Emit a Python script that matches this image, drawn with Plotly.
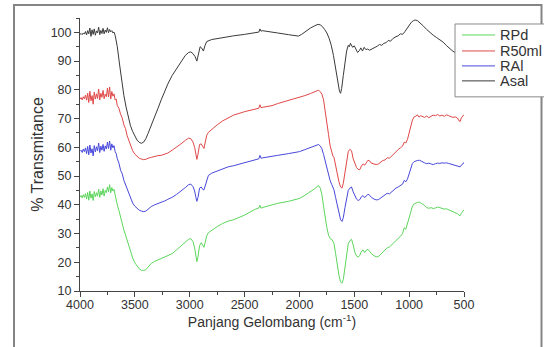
import plotly.graph_objects as go

# ---- data: (wavenumber cm-1, % transmittance) ----
asal = [
    (4000, 99.3), (3990, 99.6), (3980, 99.2), (3970, 99.8), (3960, 99.4), (3950, 100.3),
    (3940, 99.1), (3930, 100.6), (3920, 99.5), (3910, 101.5), (3900, 98.6), (3890, 100.9),
    (3880, 99.3), (3870, 101.2), (3860, 99.0), (3850, 100.5), (3840, 99.8), (3830, 101.8),
    (3820, 99.2), (3810, 100.7), (3800, 99.6), (3790, 101.4), (3780, 99.5), (3770, 100.8),
    (3760, 100.0), (3750, 101.6), (3740, 99.9), (3730, 101.0), (3720, 100.2), (3710, 100.6),
    (3700, 99.8), (3690, 100.1), (3680, 99.0), (3670, 97.5), (3660, 95.0), (3640, 89.0),
    (3620, 83.0), (3600, 78.0), (3580, 74.0), (3560, 70.5), (3540, 67.5), (3520, 65.5),
    (3500, 63.8), (3480, 62.5), (3460, 61.7), (3440, 61.4), (3420, 61.8), (3400, 63.0),
    (3380, 64.8), (3350, 67.5), (3320, 70.3), (3290, 73.5), (3260, 76.5), (3230, 79.5),
    (3200, 82.0), (3160, 85.0), (3120, 87.5), (3080, 90.0), (3040, 92.0), (3010, 93.0),
    (2990, 93.2), (2970, 92.6), (2950, 91.5), (2935, 90.0), (2920, 92.5), (2905, 95.0),
    (2890, 94.5), (2875, 93.5), (2860, 95.5), (2845, 96.8), (2800, 97.5), (2700, 98.2),
    (2600, 98.8), (2500, 99.3), (2400, 99.8), (2370, 100.1), (2360, 101.2), (2350, 100.4),
    (2340, 100.6), (2300, 100.3), (2250, 100.1), (2200, 99.8), (2100, 99.2), (2050, 98.9),
    (2010, 98.7), (1980, 99.3), (1940, 100.5), (1900, 101.5), (1860, 102.3), (1830, 102.8),
    (1810, 102.6), (1790, 102.0), (1770, 101.0), (1750, 99.8), (1730, 98.0), (1710, 95.5),
    (1690, 92.0), (1670, 87.5), (1650, 82.5), (1635, 79.5), (1625, 78.8), (1615, 80.5),
    (1600, 85.0), (1585, 90.0), (1570, 93.5), (1555, 95.5), (1545, 95.0), (1535, 96.2),
    (1525, 95.3), (1515, 94.8), (1500, 95.3), (1485, 94.2), (1470, 93.0), (1455, 93.6),
    (1440, 94.6), (1425, 93.5), (1410, 94.8), (1395, 94.0), (1380, 94.2), (1360, 93.8),
    (1340, 94.3), (1310, 94.8), (1290, 95.2), (1270, 95.8), (1250, 95.5), (1230, 96.2),
    (1210, 96.4), (1190, 97.2), (1170, 96.9), (1150, 97.8), (1120, 98.5), (1100, 98.8),
    (1080, 99.5), (1060, 99.3), (1040, 100.2), (1020, 101.3), (1000, 102.4), (980, 103.5),
    (960, 104.1), (945, 104.3), (925, 104.1), (900, 103.3), (870, 102.2), (840, 101.0),
    (810, 99.9), (780, 99.0), (750, 98.2), (720, 97.5), (690, 96.6), (660, 95.4),
    (630, 94.3), (600, 93.4), (580, 93.0), (550, 92.6), (500, 92.2),
]

r50ml = [
    (4000, 76.8), (3990, 77.3), (3980, 76.5), (3970, 77.6), (3960, 76.9), (3950, 78.2),
    (3940, 76.4), (3930, 78.8), (3920, 75.6), (3910, 79.5), (3900, 76.2), (3890, 78.0),
    (3880, 75.0), (3870, 79.2), (3860, 76.8), (3850, 78.6), (3840, 77.0), (3830, 80.3),
    (3820, 76.5), (3810, 78.8), (3800, 77.4), (3790, 79.8), (3780, 76.9), (3770, 78.5),
    (3760, 77.6), (3750, 80.6), (3740, 77.5), (3730, 81.0), (3720, 76.8), (3710, 79.4),
    (3700, 77.8), (3690, 78.6), (3680, 76.5), (3670, 76.8), (3660, 74.5), (3645, 73.6),
    (3630, 71.5), (3615, 70.2), (3600, 67.8), (3585, 66.5), (3570, 64.0), (3555, 62.2),
    (3540, 60.5), (3520, 58.8), (3500, 57.6), (3480, 56.8), (3460, 56.2), (3440, 55.9),
    (3420, 55.7), (3400, 55.8), (3380, 56.2), (3350, 56.5), (3320, 56.9), (3290, 57.1),
    (3260, 57.2), (3230, 57.5), (3200, 58.0), (3160, 59.0), (3120, 60.0), (3080, 61.2),
    (3040, 62.4), (3010, 63.2), (2990, 63.0), (2970, 61.8), (2955, 60.0), (2945, 57.5),
    (2935, 55.8), (2925, 57.5), (2910, 61.0), (2895, 61.2), (2880, 60.0), (2870, 59.6),
    (2860, 61.5), (2845, 64.2), (2830, 65.2), (2800, 66.3), (2750, 67.8), (2700, 69.2),
    (2650, 70.2), (2600, 71.2), (2500, 72.4), (2400, 73.3), (2370, 73.6), (2360, 74.8),
    (2350, 73.8), (2340, 73.9), (2300, 74.2), (2250, 74.5), (2200, 75.2), (2100, 76.3),
    (2000, 77.3), (1950, 78.0), (1900, 78.7), (1860, 79.2), (1840, 79.6), (1825, 79.9),
    (1810, 79.3), (1795, 78.5), (1780, 76.5), (1765, 73.0), (1750, 69.0), (1735, 64.5),
    (1720, 60.5), (1705, 58.3), (1695, 57.0), (1685, 56.5), (1670, 53.5), (1655, 50.5),
    (1640, 48.0), (1625, 46.2), (1612, 45.8), (1600, 47.5), (1585, 51.5), (1570, 55.5),
    (1555, 58.5), (1540, 59.3), (1525, 58.8), (1510, 56.0), (1495, 54.2), (1480, 53.0),
    (1465, 52.3), (1450, 52.2), (1435, 53.5), (1420, 54.2), (1405, 53.8), (1390, 54.8),
    (1375, 55.5), (1360, 55.3), (1345, 54.5), (1320, 54.2), (1300, 54.0), (1280, 54.2),
    (1260, 54.8), (1240, 55.4), (1220, 55.6), (1200, 56.4), (1180, 56.2), (1160, 57.0),
    (1140, 57.8), (1120, 58.5), (1100, 59.2), (1080, 59.8), (1060, 60.4), (1045, 61.8),
    (1030, 61.5), (1015, 62.8), (1000, 65.0), (985, 67.5), (970, 69.5), (955, 70.6),
    (940, 70.8), (925, 71.3), (910, 70.5), (895, 71.0), (880, 70.7), (860, 70.4),
    (840, 70.9), (820, 70.3), (800, 70.8), (780, 71.2), (760, 71.0), (740, 71.4),
    (720, 70.9), (700, 71.2), (680, 70.8), (660, 71.3), (640, 71.0), (620, 70.8),
    (600, 70.4), (580, 70.6), (560, 70.2), (545, 69.2), (535, 69.0), (525, 70.2),
    (510, 70.8), (500, 71.4),
]

ral = [
    (4000, 58.6), (3990, 59.0), (3980, 58.2), (3970, 59.4), (3960, 58.5), (3950, 59.8),
    (3940, 57.8), (3930, 60.3), (3920, 57.4), (3910, 60.8), (3900, 58.0), (3890, 59.5),
    (3880, 57.0), (3870, 60.6), (3860, 58.4), (3850, 60.2), (3840, 58.8), (3830, 61.5),
    (3820, 58.2), (3810, 60.4), (3800, 59.0), (3790, 61.0), (3780, 58.6), (3770, 60.5),
    (3760, 59.4), (3750, 61.8), (3740, 59.6), (3730, 62.2), (3720, 59.0), (3710, 61.2),
    (3700, 59.8), (3690, 60.6), (3680, 58.5), (3670, 57.8), (3660, 56.0), (3645, 54.5),
    (3630, 52.0), (3615, 50.8), (3600, 48.5), (3585, 47.0), (3570, 45.2), (3555, 43.5),
    (3540, 42.0), (3520, 40.6), (3500, 39.5), (3480, 38.7), (3460, 38.1), (3440, 37.8),
    (3420, 37.6), (3400, 37.8), (3380, 38.5), (3350, 39.4), (3320, 40.0), (3290, 40.4),
    (3260, 40.8), (3230, 41.3), (3200, 41.9), (3160, 42.6), (3120, 43.6), (3080, 44.7),
    (3040, 46.0), (3010, 47.0), (2990, 47.2), (2970, 46.3), (2955, 44.8), (2945, 42.8),
    (2935, 41.2), (2925, 42.5), (2910, 45.8), (2895, 46.2), (2880, 45.3), (2870, 45.2),
    (2860, 46.5), (2845, 49.0), (2830, 50.2), (2800, 51.0), (2750, 51.8), (2700, 52.6),
    (2650, 53.2), (2600, 53.6), (2500, 54.6), (2400, 55.7), (2370, 56.0), (2360, 57.2),
    (2350, 56.2), (2340, 56.3), (2300, 56.5), (2250, 56.8), (2200, 57.2), (2100, 57.8),
    (2000, 58.5), (1950, 59.2), (1900, 59.9), (1860, 60.5), (1840, 60.8), (1825, 61.0),
    (1810, 60.4), (1795, 59.5), (1780, 57.5), (1765, 55.0), (1750, 52.5), (1735, 50.2),
    (1720, 48.4), (1705, 47.0), (1695, 46.0), (1685, 45.2), (1670, 42.5), (1655, 39.5),
    (1640, 36.8), (1625, 34.8), (1612, 34.2), (1600, 35.5), (1585, 39.0), (1570, 42.5),
    (1555, 45.0), (1540, 45.8), (1525, 46.2), (1510, 44.5), (1495, 43.0), (1480, 42.0),
    (1465, 41.5), (1450, 41.8), (1435, 42.8), (1420, 43.2), (1405, 42.5), (1390, 43.2),
    (1375, 43.7), (1360, 43.3), (1345, 42.6), (1320, 42.0), (1300, 41.7), (1280, 41.8),
    (1260, 42.4), (1240, 43.0), (1220, 43.3), (1200, 44.0), (1180, 43.8), (1160, 44.5),
    (1140, 45.2), (1120, 45.8), (1100, 46.2), (1080, 46.6), (1060, 47.2), (1045, 48.5),
    (1030, 48.0), (1015, 49.0), (1000, 51.0), (985, 53.0), (970, 54.4), (955, 55.0),
    (940, 55.3), (925, 55.4), (905, 55.5), (885, 55.0), (860, 54.6), (840, 54.3),
    (820, 54.5), (800, 54.2), (780, 54.0), (760, 54.3), (740, 54.5), (720, 54.4),
    (700, 54.6), (680, 54.5), (660, 54.6), (640, 54.4), (620, 54.2), (600, 54.0),
    (580, 53.8), (560, 53.7), (545, 53.3), (535, 53.2), (525, 53.8), (510, 54.2),
    (500, 54.8),
]

rpd = [
    (4000, 42.7), (3990, 43.2), (3980, 42.4), (3970, 43.5), (3960, 42.6), (3950, 43.9),
    (3940, 42.0), (3930, 44.3), (3920, 41.6), (3910, 44.8), (3900, 42.3), (3890, 43.8),
    (3880, 41.5), (3870, 44.6), (3860, 42.8), (3850, 44.2), (3840, 43.0), (3830, 45.4),
    (3820, 42.6), (3810, 44.8), (3800, 43.4), (3790, 45.6), (3780, 43.0), (3770, 45.0),
    (3760, 44.2), (3750, 46.2), (3740, 44.5), (3730, 47.0), (3720, 44.2), (3710, 46.0),
    (3700, 44.8), (3690, 45.4), (3680, 43.5), (3670, 42.2), (3660, 40.0), (3645, 38.0),
    (3630, 35.5), (3615, 33.6), (3600, 31.2), (3585, 29.5), (3570, 27.5), (3555, 25.3),
    (3540, 23.5), (3520, 21.5), (3500, 19.8), (3480, 18.5), (3460, 17.7), (3440, 17.2),
    (3420, 17.1), (3400, 17.4), (3380, 18.3), (3350, 19.6), (3320, 20.3), (3290, 20.8),
    (3260, 21.2), (3230, 21.8), (3200, 22.3), (3160, 23.0), (3120, 24.3), (3080, 25.6),
    (3040, 27.0), (3010, 28.0), (2990, 28.2), (2970, 27.2), (2955, 25.0), (2945, 22.2),
    (2935, 20.2), (2925, 21.8), (2910, 25.8), (2895, 26.8), (2880, 25.6), (2870, 25.2),
    (2860, 26.8), (2845, 29.2), (2830, 30.3), (2800, 31.2), (2750, 32.4), (2700, 33.5),
    (2650, 34.3), (2600, 34.8), (2500, 36.4), (2400, 38.5), (2370, 38.9), (2360, 39.8),
    (2350, 38.8), (2340, 39.0), (2300, 39.5), (2250, 40.0), (2200, 40.5), (2100, 41.2),
    (2000, 42.2), (1950, 43.3), (1900, 44.5), (1860, 45.6), (1840, 46.3), (1825, 46.7),
    (1810, 45.8), (1795, 43.5), (1780, 39.5), (1765, 35.5), (1750, 32.0), (1735, 29.5),
    (1720, 28.2), (1705, 28.0), (1695, 27.2), (1685, 26.5), (1670, 23.0), (1655, 19.0),
    (1640, 15.5), (1625, 13.2), (1612, 12.7), (1600, 14.0), (1585, 18.5), (1570, 23.0),
    (1555, 26.5), (1540, 27.5), (1525, 28.0), (1510, 26.0), (1495, 23.5), (1480, 22.2),
    (1465, 21.8), (1450, 22.4), (1435, 23.8), (1420, 24.3), (1405, 23.4), (1390, 24.2),
    (1375, 24.5), (1360, 23.8), (1345, 23.0), (1320, 22.3), (1300, 21.9), (1280, 22.0),
    (1260, 22.8), (1240, 23.6), (1220, 24.2), (1200, 25.0), (1180, 25.3), (1160, 26.0),
    (1140, 26.8), (1120, 27.6), (1100, 28.2), (1080, 29.0), (1060, 30.0), (1045, 32.0),
    (1030, 31.5), (1015, 33.5), (1000, 35.5), (985, 37.8), (970, 39.5), (955, 40.3),
    (940, 40.6), (925, 40.8), (905, 40.9), (885, 40.5), (860, 39.8), (840, 39.0),
    (820, 38.8), (800, 39.0), (780, 38.7), (760, 38.9), (740, 39.2), (720, 39.0),
    (700, 38.8), (680, 38.5), (660, 38.6), (640, 38.3), (620, 38.0), (600, 37.5),
    (580, 37.2), (560, 36.9), (545, 36.4), (535, 36.2), (525, 37.0), (510, 37.6),
    (500, 38.3),
]

series_names = ["RPd", "R50ml", "RAl", "Asal"]
series_data = [rpd, r50ml, ral, asal]
series_colors = ["#5cd65c", "#e04848", "#4848dc", "#3a3a3a"]

x_ticks = [4000, 3500, 3000, 2500, 2000, 1500, 1000, 500]
y_ticks = [10, 20, 30, 40, 50, 60, 70, 80, 90, 100]

FONT = "Liberation Sans, Arial, sans-serif"
TXT = "#333"

fig = go.Figure()
for name, data, color in zip(series_names, series_data, series_colors):
    xs, ys = zip(*data)
    fig.add_trace(go.Scatter(x=list(xs), y=list(ys), mode="lines", name=name,
                             line=dict(color=color, width=1), showlegend=False,
                             hoverinfo="skip"))

axis_common = dict(
    showgrid=False, zeroline=False, showline=True, linecolor="#444", linewidth=1,
    ticks="outside", ticklen=5, tickcolor="#444", tickwidth=1,
    tickfont=dict(family=FONT, size=12.5, color=TXT),
    mirror=False, automargin=False,
)

fig.update_xaxes(range=[4000, 500], tickvals=x_ticks, ticktext=[str(v) for v in x_ticks],
                 minor=dict(ticks="outside", ticklen=3, tickcolor="#444", dtick=250, tick0=500),
                 ticklabelstandoff=-3,
                 title=dict(text="Panjang Gelombang (cm<sup>-1</sup>)",
                            font=dict(family=FONT, size=14, color=TXT), standoff=4),
                 **axis_common)
fig.update_yaxes(range=[10, 105], tickvals=y_ticks, ticktext=[str(v) for v in y_ticks],
                 minor=dict(ticks="outside", ticklen=3, tickcolor="#444", dtick=5, tick0=0),
                 title=dict(text="% Transmitance",
                            font=dict(family=FONT, size=16, color=TXT), standoff=3),
                 **axis_common)

# ---- pixel -> paper helpers for the frame and the boxed legend ----
L, R, T, B = 80, 464, 18, 291.5
W_, H_ = R - L, B - T
def px(x):
    return (x - L) / W_
def py(y):
    return (B - y) / H_

shapes = [dict(type="rect", xref="paper", yref="paper",
               x0=px(14), x1=px(541.5), y0=py(360), y1=py(5),
               line=dict(color="#858585", width=2), layer="below")]
# legend box (opaque, covers the curve behind it)
shapes.append(dict(type="rect", xref="paper", yref="paper",
                   x0=px(455), x1=px(545), y0=py(97), y1=py(24),
                   fillcolor="white", line=dict(color="#8a8a8a", width=1), layer="above"))
annotations = []
legend_rows = [35, 51, 66, 81]
for name, color, yrow in zip(series_names, series_colors, legend_rows):
    shapes.append(dict(type="line", xref="paper", yref="paper",
                       x0=px(462), x1=px(495), y0=py(yrow), y1=py(yrow),
                       line=dict(color=color, width=1), layer="above"))
    annotations.append(dict(xref="paper", yref="paper", x=px(498), y=py(yrow),
                            xanchor="left", yanchor="middle", showarrow=False,
                            text=name, font=dict(family=FONT, size=14.5, color=TXT)))

fig.update_layout(
    width=544, height=347,
    margin=dict(l=L, r=544 - R, t=T, b=347 - B),
    paper_bgcolor="white", plot_bgcolor="white",
    showlegend=False,
    hovermode=False,
    shapes=shapes,
    annotations=annotations,
)

fig.write_html("out.html", config={"displayModeBar": False},
               post_script="document.body.style.margin='0';")
